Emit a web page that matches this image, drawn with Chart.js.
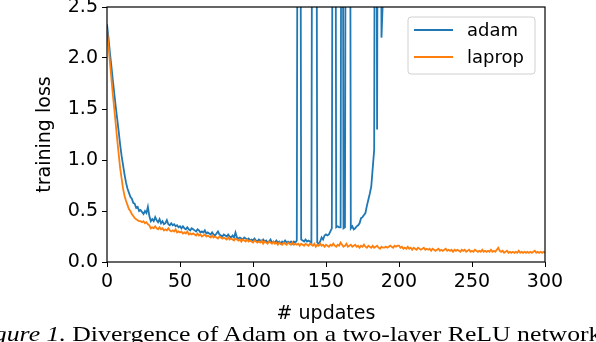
<!DOCTYPE html>
<html>
<head>
<meta charset="utf-8">
<script src="https://cdn.jsdelivr.net/npm/chart.js@4.4.0/dist/chart.umd.min.js"></script>
<style>
  html, body { margin: 0; padding: 0; background: #fff; overflow: hidden; }
  #wrap { position: relative; width: 596px; height: 342px; overflow: hidden; }
  #lossChart { position: absolute; left: 0; top: 0; }
  #caption {
    position: absolute; left: -29px; top: 323px; white-space: nowrap;
    font-family: "Liberation Serif", "Times New Roman", serif; font-size: 22px; line-height: 22px; color: #000;
    transform: scaleX(1.17); transform-origin: left top;
  }
</style>
</head>
<body>
<div id="wrap">
  <canvas id="lossChart" width="596" height="342"></canvas>
  <div id="caption"><i>Figure 1.</i> Divergence of Adam on a two-layer ReLU network</div>
</div>
<script>
const seriesNames = ['adam', 'laprop'];
const seriesColors = ['#1f77b4', '#ff7f0e'];
const xTickValues = [0, 50, 100, 150, 200, 250, 300];
const yTickValues = [0.0, 0.5, 1.0, 1.5, 2.0, 2.5];

// adam loss, one value per update (0..189); 8 = spike off the top of the plot
const adamLoss = [
  2.33, 2.20, 2.05, 1.92, 1.78, 1.65, 1.52, 1.40, 1.28, 1.15,
  1.04, 0.95, 0.86, 0.78, 0.72, 0.68, 0.64, 0.62, 0.58, 0.57,
  0.53, 0.54, 0.50, 0.51, 0.49, 0.47, 0.50, 0.48, 0.54, 0.45,
  0.40, 0.42, 0.40, 0.44, 0.41, 0.39, 0.42, 0.38, 0.40, 0.37,
  0.38, 0.41, 0.37, 0.36, 0.38, 0.36, 0.37, 0.35, 0.36, 0.34,
  0.35, 0.33, 0.35, 0.33, 0.32, 0.34, 0.32, 0.31, 0.33, 0.32,
  0.31, 0.30, 0.32, 0.31, 0.29, 0.30, 0.29, 0.31, 0.28, 0.29,
  0.28, 0.27, 0.29, 0.27, 0.26, 0.28, 0.30, 0.27, 0.26, 0.25,
  0.27, 0.26, 0.25, 0.27, 0.25, 0.24, 0.26, 0.24, 0.29, 0.24,
  0.23, 0.24, 0.23, 0.22, 0.24, 0.23, 0.22, 0.23, 0.21, 0.22,
  0.21, 0.23, 0.21, 0.20, 0.22, 0.21, 0.20, 0.22, 0.20, 0.21,
  0.19, 0.20, 0.22, 0.19, 0.20, 0.19, 0.21, 0.19, 0.20, 0.18,
  0.20, 0.19, 0.21, 0.19, 0.20, 0.19, 0.20, 0.18, 0.20, 0.19,
  0.21, 8, 8, 0.22, 0.21, 0.20, 0.22, 0.20, 0.21, 0.20,
  0.19, 8, 8, 8, 0.19, 0.18, 0.20, 0.24, 0.22, 0.26,
  0.27, 0.26, 0.27, 0.30, 0.33, 8, 8, 0.34, 0.35, 0.34,
  0.34, 8, 0.33, 0.34, 8, 8, 8, 0.33, 0.35, 0.32,
  0.33, 0.35, 0.36, 0.38, 0.43, 0.44, 0.46, 0.48, 0.55, 0.61,
  0.67, 0.74, 0.92, 1.10, 8, 1.30, 8, 8, 2.20, 2.60
];

// laprop loss, one value per update (0..300)
const lapropLoss = [
  2.28, 2.12, 1.96, 1.80, 1.64, 1.50, 1.35, 1.20, 1.06, 0.92,
  0.82, 0.72, 0.65, 0.60, 0.56, 0.52, 0.50, 0.47, 0.45, 0.43,
  0.42, 0.41, 0.40, 0.40, 0.39, 0.40, 0.38, 0.39, 0.37, 0.36,
  0.33, 0.34, 0.33, 0.35, 0.33, 0.32, 0.34, 0.32, 0.33, 0.31,
  0.32, 0.31, 0.33, 0.31, 0.30, 0.31, 0.30, 0.32, 0.29, 0.30,
  0.29, 0.30, 0.28, 0.29, 0.28, 0.30, 0.27, 0.28, 0.27, 0.28,
  0.27, 0.26, 0.28, 0.26, 0.27, 0.25, 0.26, 0.27, 0.25, 0.26,
  0.25, 0.24, 0.26, 0.24, 0.25, 0.24, 0.23, 0.25, 0.24, 0.23,
  0.24, 0.23, 0.22, 0.24, 0.22, 0.23, 0.22, 0.21, 0.23, 0.22,
  0.21, 0.22, 0.20, 0.22, 0.21, 0.20, 0.22, 0.20, 0.21, 0.20,
  0.19, 0.21, 0.20, 0.19, 0.20, 0.19, 0.21, 0.18, 0.20, 0.19,
  0.18, 0.20, 0.19, 0.18, 0.20, 0.18, 0.19, 0.17, 0.19, 0.18,
  0.17, 0.19, 0.18, 0.17, 0.19, 0.18, 0.17, 0.19, 0.17, 0.18,
  0.17, 0.18, 0.16, 0.18, 0.17, 0.16, 0.18, 0.17, 0.16, 0.18,
  0.17, 0.16, 0.18, 0.15, 0.17, 0.16, 0.18, 0.16, 0.17, 0.15,
  0.17, 0.16, 0.15, 0.17, 0.16, 0.18, 0.16, 0.15, 0.17, 0.16,
  0.19, 0.17, 0.15, 0.16, 0.18, 0.15, 0.16, 0.17, 0.15, 0.16,
  0.17, 0.15, 0.16, 0.14, 0.16, 0.15, 0.17, 0.15, 0.14, 0.16,
  0.15, 0.14, 0.16, 0.14, 0.15, 0.16, 0.14, 0.13, 0.15, 0.14,
  0.14, 0.15, 0.14, 0.15, 0.16, 0.15, 0.14, 0.16, 0.15, 0.16,
  0.16, 0.14, 0.15, 0.13, 0.14, 0.13, 0.15, 0.13, 0.14, 0.12,
  0.14, 0.13, 0.12, 0.14, 0.13, 0.12, 0.13, 0.14, 0.12, 0.13,
  0.12, 0.13, 0.11, 0.13, 0.12, 0.11, 0.12, 0.13, 0.11, 0.12,
  0.11, 0.12, 0.13, 0.11, 0.12, 0.11, 0.12, 0.10, 0.12, 0.11,
  0.12, 0.11, 0.10, 0.12, 0.11, 0.12, 0.10, 0.11, 0.12, 0.10,
  0.11, 0.10, 0.12, 0.11, 0.10, 0.11, 0.10, 0.12, 0.10, 0.11,
  0.10, 0.11, 0.10, 0.12, 0.10, 0.11, 0.10, 0.12, 0.14, 0.11,
  0.10, 0.11, 0.09, 0.10, 0.11, 0.09, 0.10, 0.09, 0.10, 0.09,
  0.10, 0.09, 0.11, 0.09, 0.10, 0.09, 0.10, 0.09, 0.10, 0.09,
  0.10, 0.09, 0.10, 0.11, 0.09, 0.10, 0.09, 0.10, 0.09, 0.10,
  0.09
];

const axisFont = { family: 'DejaVu Sans', size: 19 };

function toPoints(values) {
  return values.map((y, i) => ({ x: i, y: y }));
}

// matplotlib-like box around the axes plus the legend in the top right
const frameAndLegend = {
  id: 'frameAndLegend',
  afterDatasetsDraw(chart) {
    const { ctx, chartArea: a } = chart;
    ctx.save();
    ctx.strokeStyle = '#000';
    ctx.lineWidth = 1.2;
    ctx.strokeRect(a.left, a.top, a.right - a.left, a.bottom - a.top);

    // legend box
    const bx = 408, by = 17, bw = 127, bh = 57, r = 3;
    ctx.beginPath();
    ctx.moveTo(bx + r, by);
    ctx.arcTo(bx + bw, by, bx + bw, by + bh, r);
    ctx.arcTo(bx + bw, by + bh, bx, by + bh, r);
    ctx.arcTo(bx, by + bh, bx, by, r);
    ctx.arcTo(bx, by, bx + bw, by, r);
    ctx.closePath();
    ctx.fillStyle = 'rgba(255,255,255,0.8)';
    ctx.fill();
    ctx.strokeStyle = '#d0d0d0';
    ctx.lineWidth = 1;
    ctx.stroke();

    ctx.font = '18px "DejaVu Sans"';
    ctx.textBaseline = 'middle';
    ctx.fillStyle = '#000';
    seriesNames.forEach((name, i) => {
      const y = 30 + i * 27;
      ctx.strokeStyle = seriesColors[i];
      ctx.lineWidth = 2;
      ctx.beginPath();
      ctx.moveTo(414, y);
      ctx.lineTo(453, y);
      ctx.stroke();
      ctx.fillText(name, 467, y + 1);
    });
    ctx.restore();
  }
};

new Chart(document.getElementById('lossChart').getContext('2d'), {
  type: 'line',
  data: {
    datasets: [
      { label: seriesNames[1], data: toPoints(lapropLoss), borderColor: seriesColors[1] },
      { label: seriesNames[0], data: toPoints(adamLoss), borderColor: seriesColors[0] }
    ]
  },
  options: {
    responsive: false,
    animation: false,
    parsing: false,
    normalized: true,
    layout: { padding: { left: 0, right: 51, top: 7, bottom: 0 } },
    elements: {
      line: { borderWidth: 1.8, tension: 0, fill: false },
      point: { radius: 0 }
    },
    plugins: {
      legend: { display: false },
      tooltip: { enabled: false }
    },
    scales: {
      x: {
        type: 'linear',
        min: 0,
        max: 300,
        afterBuildTicks: (scale) => { scale.ticks = xTickValues.map(v => ({ value: v })); },
        afterFit: (scale) => { scale.height = 80; },
        border: { display: false },
        grid: { drawOnChartArea: false, drawTicks: true, tickLength: 5, color: '#000' },
        ticks: { color: '#000', font: axisFont, padding: 4, maxRotation: 0 },
        title: { display: true, text: '# updates', color: '#000', font: axisFont, padding: { top: 0, bottom: 17 } }
      },
      y: {
        type: 'linear',
        min: 0,
        max: 2.5,
        afterBuildTicks: (scale) => { scale.ticks = yTickValues.map(v => ({ value: v })); },
        afterFit: (scale) => {
          scale.width = 107;
          scale.paddingTop = 0;
          scale.paddingBottom = 0;
        },
        border: { display: false },
        grid: { drawOnChartArea: false, drawTicks: true, tickLength: 5, color: '#000' },
        ticks: { color: '#000', font: axisFont, padding: 4, callback: (v) => v.toFixed(1) },
        title: { display: true, text: 'training loss', color: '#000', font: axisFont, padding: { top: 34, bottom: 0 } }
      }
    }
  },
  plugins: [frameAndLegend]
});
</script>
</body>
</html>
